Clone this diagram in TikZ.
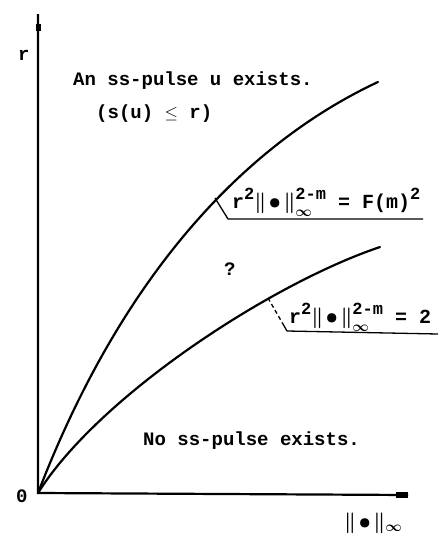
\documentclass[tikz,border=0pt]{standalone}
\usepackage{amsmath}
\usepackage{fontspec}
\setmainfont{Liberation Mono}
\usetikzlibrary{calc}
\newcommand\hiup[1]{\raisebox{0.45em}{\fontsize{17}{17}\selectfont\bfseries #1}}
\newcommand\hisub[1]{\rlap{\raisebox{-0.42em}{\boldmath$\scriptstyle\infty$}}\hiup{#1}}
\newcommand\nrmb{{\boldmath$\|\mkern2mu\mathord{\bullet}\mkern2mu\|$}}
\begin{document}
\begin{tikzpicture}[x=1pt,y=-1pt,
  axisline/.style={line width=2.2pt},
  curveline/.style={line width=2.2pt,line cap=round},
  leader/.style={line width=1.3pt},
  lbl/.style={font=\fontsize{19}{22}\selectfont\bfseries,inner sep=0pt,anchor=base west},
  formula/.style={font=\fontsize{20}{22}\selectfont\bfseries,inner sep=0pt,anchor=base west}]
\useasboundingbox (0,0) rectangle (447,541);
% axes
\coordinate (ytop) at (38,14);
\coordinate (O) at (38,493);
\coordinate (xend) at (408,495);
\draw[axisline] (ytop) -- (O) -- (xend);
\fill (35.5,24) rectangle (40.5,31);
\fill (396,492) rectangle (408,497.5);
% curves
\coordinate (u1) at (378,82);
\coordinate (l1) at (380,247);
\draw[curveline] (O) .. controls (128,259) and (258,138) .. (u1);
\draw[curveline] (O) .. controls (98,397) and (270,284) .. (l1);
% labels
\node[lbl] (rlab) at (18,60) {r};
\node[lbl] (zero) at (16,502) {0};
\node[lbl] (exist) at (73,85) {An ss-pulse u exists.};
\node[lbl] (cond) at (96,118) {(s(u) $\leq$ r)};
\node[lbl] (q) at (224,275) {?};
\node[lbl] (none) at (143,445) {No ss-pulse exists.};
\node[formula,font=\fontsize{22}{24}\selectfont] (normlab) at (344,528) {{\boldmath$\|\mkern2mu\mathord{\bullet}\mkern2mu\|_{\infty}$}};
% formula 1
\coordinate (c1) at (215,198);
\coordinate (k1) at (228,219);
\coordinate (e1) at (423,219);
\draw[leader] (c1) -- (k1) -- (e1);
\node[formula] (f1) at (232,208) {r\hiup{2}\nrmb\hisub{2-m} = F(m)\hiup{2}};
% formula 2
\coordinate (c2) at (268,298);
\coordinate (k2) at (287,331);
\coordinate (e2) at (438,334);
\coordinate (m2) at ($(c2)!0.75!(k2)$);
\draw[leader,dash pattern=on 4pt off 3pt] (c2) -- (m2);
\draw[leader] (m2) -- (k2) -- (e2);
\node[formula] (f2) at (289,323) {r\hiup{2}\nrmb\hisub{2-m} = 2};
\end{tikzpicture}
\end{document}
